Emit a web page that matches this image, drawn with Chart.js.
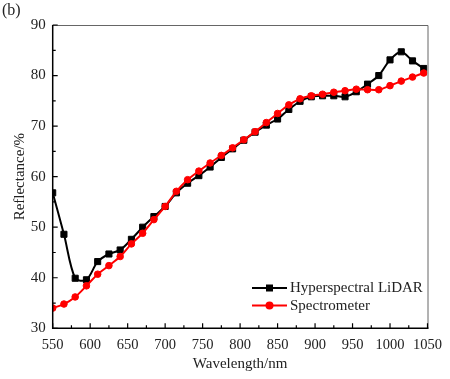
<!DOCTYPE html>
<html>
<head>
<meta charset="utf-8">
<script src="https://cdn.jsdelivr.net/npm/chart.js@4.4.1/dist/chart.umd.min.js"></script>
<style>
html,body{margin:0;padding:0;background:#fff;}
#wrap{position:relative;width:450px;height:379px;}
canvas{display:block;}
</style>
</head>
<body>
<div id="wrap"><canvas id="c" width="450" height="379"></canvas></div>
<script>
const panelLabel = "(b)";
const xTitle = "Wavelength/nm";
const yTitle = "Reflectance/%";
const wavelengths = [550,565,580,595,610,625,640,655,670,685,700,715,730,745,760,775,790,805,820,835,850,865,880,895,910,925,940,955,970,985,1000,1015,1030,1045];
const lidarValues = [56.8,48.6,39.9,39.6,43.2,44.7,45.5,47.6,50.0,52.1,54.1,56.8,58.7,60.2,61.9,63.8,65.5,67.2,68.8,70.2,71.4,73.3,74.9,75.8,76.0,76.0,75.8,76.8,78.3,80.0,83.1,84.7,82.9,81.4];
const spectroValues = [34.0,34.8,36.2,38.4,40.7,42.4,44.2,46.7,48.8,51.5,54.1,57.1,59.4,61.1,62.7,64.2,65.7,67.3,68.9,70.7,72.5,74.2,75.4,76.0,76.3,76.7,77.0,77.3,77.2,77.2,78.0,78.9,79.7,80.5];
const seriesNames = ["Hyperspectral LiDAR","Spectrometer"];
const xTicks = [550,600,650,700,750,800,850,900,950,1000,1050];
const yTicks = [30,40,50,60,70,80,90];

const FONT = "'Liberation Serif','Times New Roman',serif";

const framePlugin = {
  id: 'frame',
  afterDraw(chart) {
    const ctx = chart.ctx, a = chart.chartArea;
    const xs = chart.scales.x, ys = chart.scales.y;
    ctx.save();
    ctx.strokeStyle = '#666'; ctx.lineWidth = 1;
    ctx.beginPath();
    ctx.moveTo(a.left, a.top + 0.5); ctx.lineTo(a.right + 0.5, a.top + 0.5);
    ctx.lineTo(a.right + 0.5, a.bottom);
    ctx.stroke();
    ctx.strokeStyle = '#000'; ctx.lineWidth = 1.5;
    ctx.beginPath();
    ctx.moveTo(a.left, a.top); ctx.lineTo(a.left, a.bottom); ctx.lineTo(a.right + 1, a.bottom);
    ctx.stroke();
    ctx.lineWidth = 1.2;
    ctx.beginPath();
    for (let i = 0; i < xTicks.length; i++) {
      const px = xs.getPixelForValue(xTicks[i]);
      ctx.moveTo(px, a.bottom); ctx.lineTo(px, a.bottom - 5);
      if (i < xTicks.length - 1) {
        const mx = xs.getPixelForValue((xTicks[i] + xTicks[i+1]) / 2);
        ctx.moveTo(mx, a.bottom); ctx.lineTo(mx, a.bottom - 3);
      }
    }
    for (let i = 0; i < yTicks.length; i++) {
      const py = ys.getPixelForValue(yTicks[i]);
      ctx.moveTo(a.left, py); ctx.lineTo(a.left + 5, py);
      if (i < yTicks.length - 1) {
        const my = ys.getPixelForValue((yTicks[i] + yTicks[i+1]) / 2);
        ctx.moveTo(a.left, my); ctx.lineTo(a.left + 3, my);
      }
    }
    ctx.stroke();
    ctx.fillStyle = '#222';
    ctx.font = '16px ' + FONT;
    ctx.textBaseline = 'middle'; ctx.textAlign = 'left';
    ctx.fillText(panelLabel, 2, 11);
    const rows = [288, 305.5];
    chart.data.datasets.forEach((ds, i) => {
      const y = rows[i];
      ctx.strokeStyle = ds.borderColor; ctx.lineWidth = 2;
      ctx.beginPath(); ctx.moveTo(252, y); ctx.lineTo(287, y); ctx.stroke();
      ctx.fillStyle = ds.borderColor;
      if (ds.pointStyle === 'rect') {
        ctx.fillRect(269.5 - 3.5, y - 3.5, 7, 7);
      } else {
        ctx.beginPath(); ctx.arc(269.5, y, 4, 0, Math.PI * 2); ctx.fill();
      }
      ctx.fillStyle = '#222';
      ctx.font = '15px ' + FONT;
      ctx.textAlign = 'left'; ctx.textBaseline = 'middle';
      ctx.fillText(ds.label, 290, y + 0.5);
    });
    ctx.restore();
  }
};

const toPoints = vals => wavelengths.map((w, i) => ({x: w, y: vals[i]}));

new Chart(document.getElementById('c'), {
  type: 'line',
  data: {
    datasets: [
      {
        label: seriesNames[0], data: toPoints(lidarValues),
        borderColor: '#000', backgroundColor: '#000', borderWidth: 2,
        pointStyle: 'rect', pointRadius: 4.3, pointBorderWidth: 1,
        tension: 0.3, order: 2
      },
      {
        label: seriesNames[1], data: toPoints(spectroValues),
        borderColor: '#ff0000', backgroundColor: '#ff0000', borderWidth: 2,
        pointStyle: 'circle', pointRadius: 3.3, pointBorderWidth: 1,
        tension: 0.3, order: 1
      }
    ]
  },
  options: {
    responsive: false, animation: false, devicePixelRatio: 1,
    layout: { padding: { left: 0, top: 25, right: 20.5, bottom: 0 } },
    plugins: { legend: { display: false }, tooltip: { enabled: false } },
    scales: {
      x: {
        type: 'linear', min: 550, max: 1050,
        afterBuildTicks: s => { s.ticks = xTicks.map(v => ({value: v})); },
        afterFit: s => { s.height = 50.7; },
        grid: { display: false, drawTicks: false },
        border: { display: false },
        ticks: { color: '#222', font: { family: FONT, size: 14.5 }, padding: 8, maxRotation: 0, callback: v => String(v) },
        title: { display: true, text: xTitle, color: '#222', font: { family: FONT, size: 15 }, padding: { top: 0, bottom: 6 } }
      },
      y: {
        type: 'linear', min: 30, max: 90,
        afterBuildTicks: s => { s.ticks = yTicks.map(v => ({value: v})); },
        afterFit: s => { s.width = 52.7; },
        grid: { display: false, drawTicks: false },
        border: { display: false },
        ticks: { color: '#222', font: { family: FONT, size: 15 }, padding: 7, callback: v => String(v) },
        title: { display: true, text: yTitle, color: '#222', font: { family: FONT, size: 15 }, padding: { top: 11, bottom: 0 } }
      }
    }
  },
  plugins: [framePlugin]
});
</script>
</body>
</html>
